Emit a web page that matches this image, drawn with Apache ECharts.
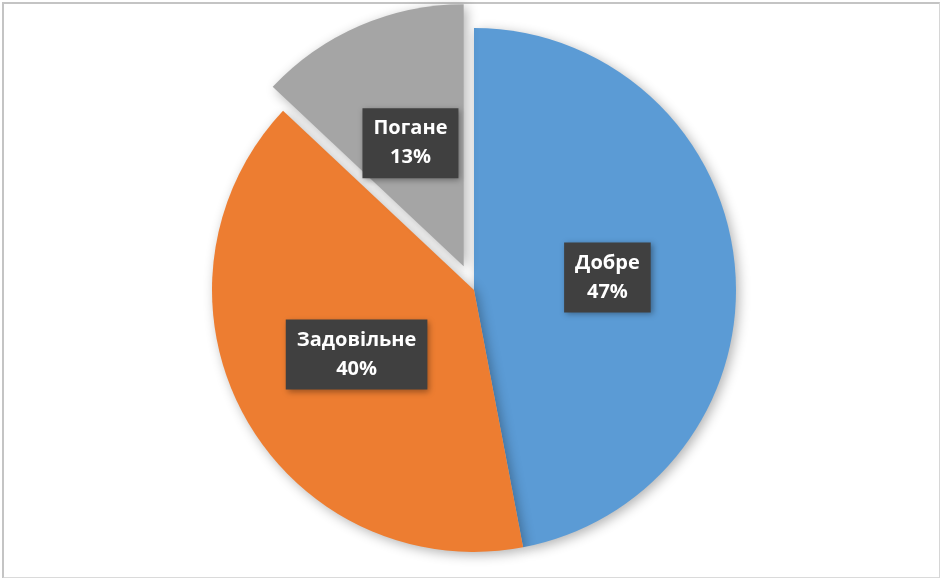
<!DOCTYPE html>
<html>
<head>
<meta charset="utf-8">
<script src="https://cdn.jsdelivr.net/npm/echarts@6/dist/echarts.min.js"></script>
<style>
html,body{margin:0;padding:0;background:#fff;}
#frame{position:absolute;left:2px;top:2px;width:935px;height:573px;border-left:2px solid #C4C4C4;border-top:2px solid #C4C4C4;border-right:1px solid #D6D6D6;border-bottom:2px solid #DADADA;}
#chart{position:absolute;left:0;top:0;width:941px;height:578px;}
</style>
</head>
<body>
<div id="frame"></div>
<div id="chart"></div>
<script>
const categories = ['Добре', 'Задовільне', 'Погане'];
const values = [47, 40, 13];
const colors = ['#5B9BD5', '#ED7D31', '#A5A5A5'];
const explodedIndex = 2;

const chart = echarts.init(document.getElementById('chart'), null, {renderer: 'canvas'});
chart.setOption({
  animation: false,
  series: [{
    type: 'pie',
    center: [474, 290],
    radius: 262,
    startAngle: 90,
    clockwise: true,
    selectedMode: 'single',
    selectedOffset: 26,
    emphasis: {disabled: true},
    itemStyle: {
      shadowBlur: 12,
      shadowOffsetX: 3,
      shadowOffsetY: 3,
      shadowColor: 'rgba(0,0,0,0.3)'
    },
    label: {
      show: true,
      position: 'inside',
      formatter: p => p.name + '\n' + p.percent.toFixed(0) + '%',
      color: '#FFFFFF',
      fontFamily: '"Open Sans", sans-serif',
      fontWeight: 'bold',
      fontSize: 20,
      lineHeight: 29,
      align: 'center',
      backgroundColor: '#404040',
      padding: [6, 11, 6, 11],
      shadowBlur: 6,
      shadowOffsetX: 2,
      shadowOffsetY: 2,
      shadowColor: 'rgba(0,0,0,0.35)'
    },
    labelLine: {show: false},
    data: categories.map((c, i) => ({
      name: c,
      value: values[i],
      selected: i === explodedIndex,
      itemStyle: {color: colors[i]}
    }))
  }]
});
</script>
</body>
</html>
